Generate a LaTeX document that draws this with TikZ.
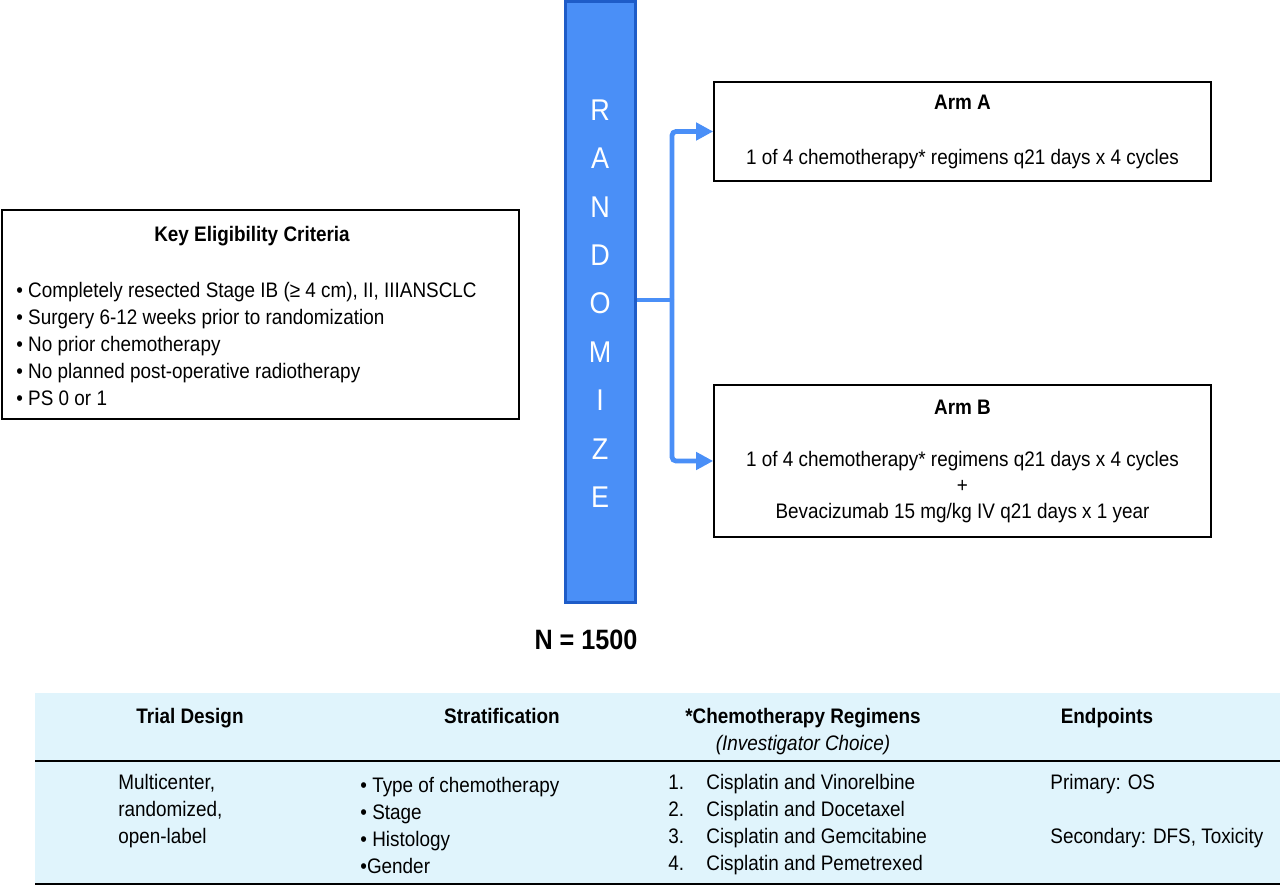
\documentclass[tikz,border=0pt]{standalone}
\usepackage{fontspec}
\setmainfont{Liberation Sans}[FakeStretch=0.9]
\usetikzlibrary{arrows.meta,calc}
\definecolor{barB}{RGB}{74,143,247}
\definecolor{barE}{RGB}{30,92,200}
\definecolor{tabC}{RGB}{224,244,252}

\begin{document}
\begin{tikzpicture}[x=0.5pt,y=-0.5pt,
  box/.style={draw,line width=0.8pt,inner sep=0pt},
  txt/.style={inner sep=0pt,font=\fontsize{10.5}{13.5}\selectfont,align=left},
  hd/.style={inner sep=0pt,anchor=base,font=\fontsize{10.5}{13}\selectfont\bfseries},
  link/.style={barB,line width=2.4pt,rounded corners=2pt},
  >={Triangle[length=8.5pt,width=8.5pt]}]
\useasboundingbox (0,0) rectangle (1280,887);
% ---- eligibility box
\node[box,minimum width=258.5pt,minimum height=104.5pt] (elig) at (260.5,314.5) {};
\node[hd] (eligT) at (252,242) {Key Eligibility Criteria};
\node[txt,anchor=west] (eligL) at (16,344) {• Completely resected Stage IB (≥ 4 cm), II, IIIANSCLC\\
  • Surgery 6-12 weeks prior to randomization\\
  • No prior chemotherapy\\
  • No planned post-operative radiotherapy\\
  • PS 0 or 1};
% ---- randomize bar
\node[draw=barE,fill=barB,line width=1.5pt,minimum width=35pt,minimum height=300pt,inner sep=0pt] (rand) at (600,302) {};
\foreach \c [count=\i from 0] in {R,A,N,D,O,M,I,Z,E}
  \node[white,inner sep=0pt,font=\fontsize{15}{17}\selectfont] (l\i) at (600,110+48.4*\i) {\c};
\node[inner sep=0pt,font=\fontsize{14}{16}\selectfont\bfseries] (nlab) at (586,640) {N = 1500};
% ---- arms
\node[box,minimum width=248.5pt,minimum height=49.5pt,align=center,font=\fontsize{10.5}{13}\selectfont] (armA) at (962.5,131.5)
  {\textbf{Arm A}\\[14.5pt]1 of 4 chemotherapy* regimens q21 days x 4 cycles};
\node[box,minimum width=248.5pt,minimum height=76pt,align=center,font=\fontsize{10.5}{13}\selectfont] (armB) at (962.5,461)
  {\textbf{Arm B}\\[13pt]1 of 4 chemotherapy* regimens q21 days x 4 cycles\\+\\Bevacizumab 15 mg/kg IV q21 days x 1 year};
\coordinate (fork) at (672,300);
\draw[link] (rand.east |- fork) -- (fork);
\draw[link,->] (fork) |- (armA.west);
\draw[link,->] (fork) |- (armB.west);
% ---- table
\fill[tabC] (35,693) rectangle (1280,884);
\draw[line width=1.2pt] (35,761) -- (1280,761);
\draw[line width=1.2pt] (35,884) -- (1280,884);
\node[hd] (h1) at (190,723) {Trial Design};
\node[hd] (h2) at (502,723) {Stratification};
\node[hd] (h3) at (803,723) {*Chemotherapy Regimens};
\node[txt,font=\fontsize{10.5}{13}\selectfont\itshape] (h3b) at (803,745) {(Investigator Choice)};
\node[hd] (h4) at (1107,723) {Endpoints};
\node[txt,anchor=west] (c1) at (118,811) {Multicenter,\\randomized,\\open-label};
\node[txt,anchor=west] (c2) at (360,825) {• Type of chemotherapy\\• Stage\\• Histology\\•Gender};
\node[txt,anchor=west] (c3) at (668,825) {\makebox[19pt][l]{1.}Cisplatin and Vinorelbine\\
  \makebox[19pt][l]{2.}Cisplatin and Docetaxel\\
  \makebox[19pt][l]{3.}Cisplatin and Gemcitabine\\
  \makebox[19pt][l]{4.}Cisplatin and Pemetrexed};
\node[txt,anchor=west] (c4) at (1050,811) {Primary: OS\\[13.5pt]Secondary: DFS, Toxicity};
\end{tikzpicture}
\end{document}
